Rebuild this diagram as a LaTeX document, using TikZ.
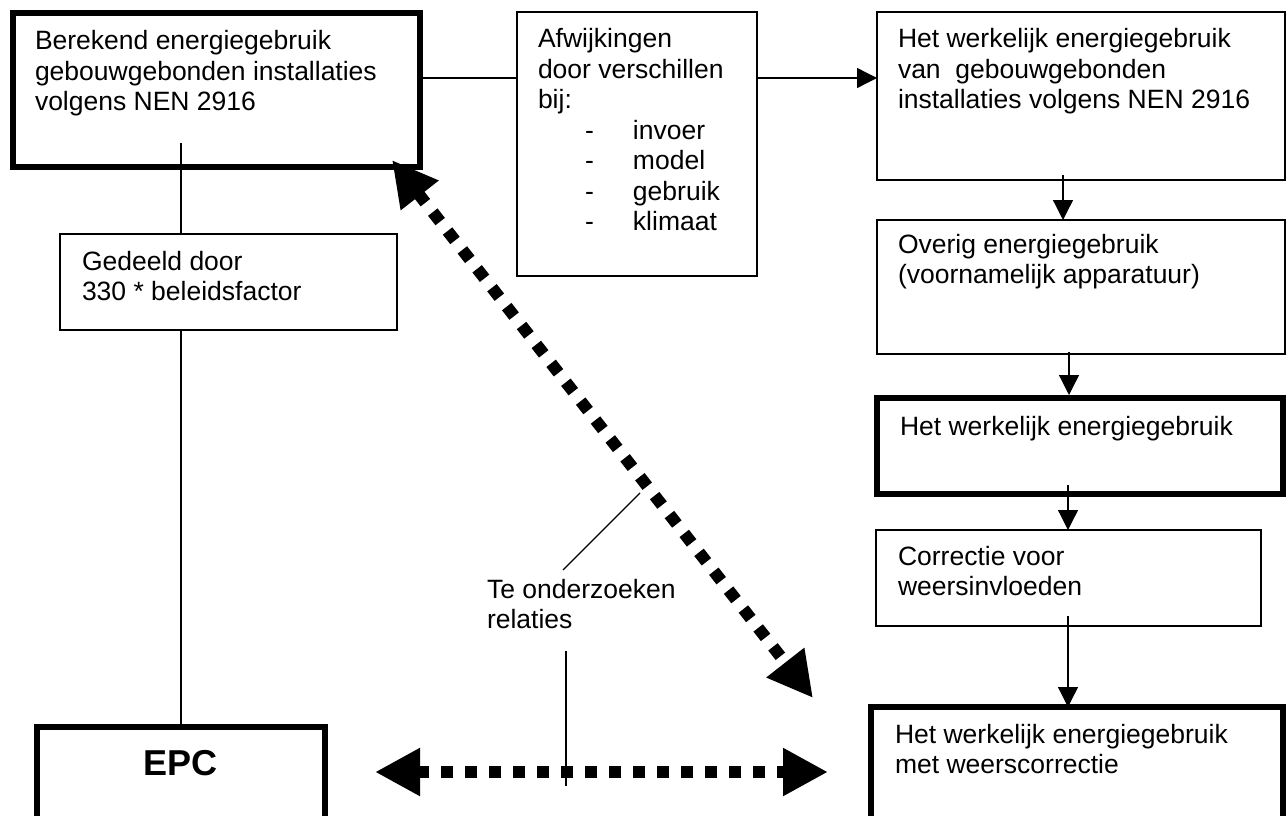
\documentclass[tikz,border=0pt]{standalone}
\usepackage{fontspec}
\setmainfont{Liberation Sans}
\usetikzlibrary{arrows.meta}
\newcommand\mylines[1]{\vtop{\baselineskip=30.5pt\halign{##\hfil\cr#1\crcr}}}
\begin{document}
\begin{tikzpicture}[x=1pt,y=-1pt,
  thinbox/.style={draw, line width=1.3pt, inner sep=0pt, outer sep=0pt},
  thickbox/.style={draw, line width=6pt, inner sep=0pt, outer sep=0pt},
  txt/.style={anchor=base west, inner sep=0pt, outer sep=0pt, font=\fontsize{26.5}{30.5}\selectfont},
  conn/.style={line width=1.3pt},
  flow/.style={line width=1.3pt, -{Triangle[length=20pt 0 0,width=20pt 0 0]}},
  rel/.style={line width=12pt, dash pattern=on 12pt off 12pt,
    {Triangle[length=45pt 0 0,width=45pt 0 0]}-{Triangle[length=45pt 0 0,width=45pt 0 0]}}]
\useasboundingbox (0,0) rectangle (1287,816);

% boxes
\node[thickbox, minimum width=407pt, minimum height=154pt] (A) at (216.5,90) {};
\node[thinbox, minimum width=337pt, minimum height=96pt] (G) at (228.5,282) {};
\node[thickbox, minimum width=288.5pt, minimum height=113pt] (EPC) at (180.75,783.5) {};
\node[thinbox, minimum width=240pt, minimum height=264pt] (Afw) at (637,144) {};
\node[thinbox, minimum width=408pt, minimum height=168pt] (R1) at (1081,96) {};
\node[thinbox, minimum width=408pt, minimum height=134pt] (R2) at (1081,287) {};
\node[thickbox, minimum width=406pt, minimum height=96pt] (R3) at (1080,446) {};
\node[thinbox, minimum width=385pt, minimum height=96pt] (R4) at (1068.5,578) {};
\node[thickbox, minimum width=412pt, minimum height=133pt] (R5) at (1077,773.5) {};

% texts
\node[txt] (tA) at (35,50) {\mylines{Berekend energiegebruik\cr gebouwgebonden installaties\cr volgens NEN 2916}};
\node[txt] (tG) at (82,270) {\mylines{Gedeeld door\cr 330 * beleidsfactor}};
\node[anchor=base, inner sep=0pt, font=\fontsize{36}{40}\selectfont\bfseries] (tE) at (180.75,775) {EPC};
\node[txt] (tAfw) at (538,48) {\mylines{Afwijkingen\cr door verschillen\cr bij:\cr
  \hskip47pt\hbox to48pt{-\hfil}invoer\cr
  \hskip47pt\hbox to48pt{-\hfil}model\cr
  \hskip47pt\hbox to48pt{-\hfil}gebruik\cr
  \hskip47pt\hbox to48pt{-\hfil}klimaat}};
\node[txt] (tR1) at (898,48) {\mylines{Het werkelijk energiegebruik\cr van\ \ gebouwgebonden\cr installaties volgens NEN 2916}};
\node[txt] (tR2) at (898,253) {\mylines{Overig energiegebruik\cr (voornamelijk apparatuur)}};
\node[txt] (tR3) at (900,435) {Het werkelijk energiegebruik};
\node[txt] (tR4) at (898,565) {\mylines{Correctie voor\cr weersinvloeden}};
\node[txt] (tR5) at (895,743) {\mylines{Het werkelijk energiegebruik\cr met weerscorrectie}};
\node[txt] (tT) at (487,598) {\mylines{Te onderzoeken\cr relaties}};

% coordinates
\coordinate (row) at (0,78);
\coordinate (aIn) at (181,143);
\coordinate (f1) at (1063,175);
\coordinate (f2) at (1069,352);
\coordinate (f3) at (1068,485);
\coordinate (f4) at (1068,616);
\coordinate (dA) at (392,160);
\coordinate (dB) at (813,698);
\coordinate (hL) at (375,772);
\coordinate (hR) at (828,772);
\coordinate (p1) at (563,570);
\coordinate (p2) at (640,493);
\coordinate (p3) at (566,651);
\coordinate (p4) at (566,786);

% connectors
\draw[conn] (A.east |- row) -- (Afw.west |- row);
\draw[flow] (Afw.east |- row) -- (R1.west |- row);
\draw[conn] (aIn) -- (G.north -| aIn);
\draw[conn] (G.south -| aIn) -- (EPC.north -| aIn);
\draw[flow] (f1) -- (R2.north -| f1);
\draw[flow] (f2) -- ([yshift=3pt]R3.north -| f2);
\draw[flow] (f3) -- (R4.north -| f3);
\draw[flow] (f4) -- (R5.north -| f4);
\draw[rel] (dA) -- (dB);
\draw[rel] (hL) -- (hR);
\draw[conn] (p1) -- (p2);
\draw[conn] (p3) -- (p4);
\end{tikzpicture}
\end{document}
